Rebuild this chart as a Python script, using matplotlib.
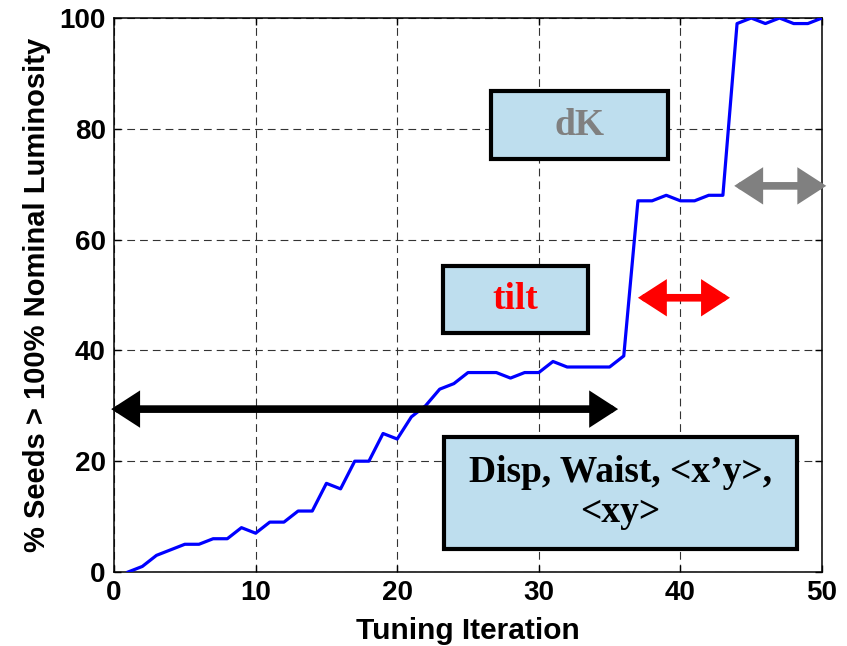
import matplotlib
matplotlib.use('Agg')
import matplotlib.pyplot as plt
from matplotlib.patches import Rectangle

# seeds above nominal luminosity per tuning iteration
iterations = list(range(1, 51))
pct_seeds = [0, 1, 3, 4, 5, 5, 6, 6, 8, 7,
             9, 9, 11, 11, 16, 15, 20, 20, 25, 24,
             28, 30, 33, 34, 36, 36, 36, 35, 36, 36,
             38, 37, 37, 37, 37, 39, 67, 67, 68, 67,
             67, 68, 68, 99, 100, 99, 100, 99, 99, 100]

# tuning stages: label, text colour, box (x0, x1, y0, y1), arrow (x0, x1, y)
stages = [
    ('Disp, Waist, <x\u2019y>,\n<xy>', 'black', (23.3, 48.2, 4.2, 24.4), (-0.2, 35.6, 29.4)),
    ('tilt', '#ff0000', (23.2, 33.5, 43.1, 55.2), (37.0, 43.5, 49.5)),
    ('dK', '#808080', (26.6, 39.1, 74.5, 86.8), (43.8, 50.3, 69.7)),
]
arrow_colors = ['black', '#ff0000', '#808080']

plt.rcParams['font.family'] = ['Liberation Sans', 'DejaVu Sans']

fig = plt.figure(figsize=(8.47, 6.46), dpi=100)
ax = fig.add_axes([0.1346, 0.1146, 0.8359, 0.8575])

ax.plot(iterations, pct_seeds, color='#0000ff', lw=2.3, zorder=3)

ax.set_xlim(0, 50)
ax.set_ylim(0, 100)
ax.set_xticks(range(0, 51, 10))
ax.set_yticks(range(0, 101, 20))
ax.tick_params(direction='in', length=5, width=1, top=True, right=True,
               labelsize=20, pad=6)
for lab in ax.get_xticklabels() + ax.get_yticklabels():
    lab.set_fontweight('bold')
for sp in ax.spines.values():
    sp.set_linewidth(1.1)
ax.grid(True, color='#333333', lw=0.8, linestyle=(0, (7, 4.5)))
ax.set_axisbelow(True)

ax.set_xlabel('Tuning Iteration', fontsize=21.5, fontweight='bold', labelpad=8)
ax.set_ylabel('% Seeds > 100% Nominal Luminosity', fontsize=21,
              fontweight='bold', labelpad=6)

for (label, tcol, box, arr), acol in zip(stages, arrow_colors):
    x0, x1, y0, y1 = box
    ax.add_patch(Rectangle((x0, y0), x1 - x0, y1 - y0, facecolor='#bedeee',
                           edgecolor='black', lw=3, zorder=4))
    ax.text((x0 + x1) / 2, (y0 + y1) / 2, label, color=tcol, fontsize=27,
            fontweight='bold', family='Liberation Serif', ha='center',
            va='center', linespacing=1.2, zorder=5)
    ax0, ax1, ay = arr
    ax.annotate('', xy=(ax1, ay), xytext=(ax0, ay),
                arrowprops=dict(arrowstyle='<|-|>,head_length=0.65,head_width=0.42',
                                color=acol, lw=5.5, mutation_scale=20,
                                shrinkA=0, shrinkB=0, joinstyle='miter'),
                annotation_clip=False, zorder=6)

fig.savefig('out.png', dpi=100)
